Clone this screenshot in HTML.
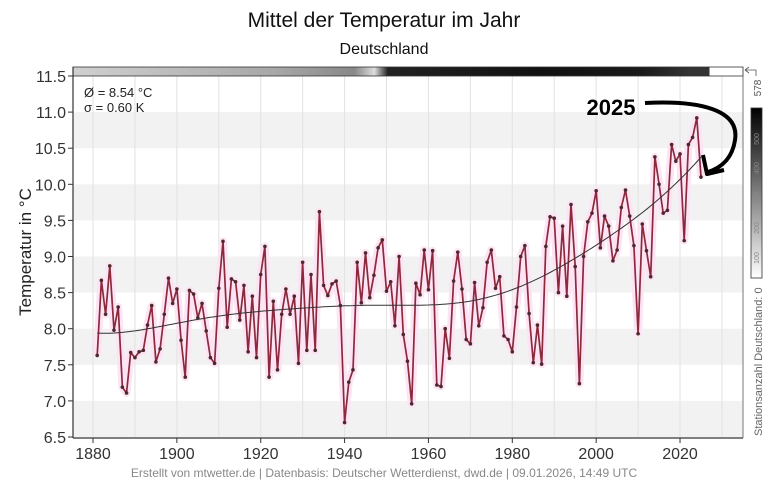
<!DOCTYPE html>
<html><head><meta charset="utf-8">
<style>
body{margin:0;background:#fff;font-family:"Liberation Sans",sans-serif}
svg{display:block}
</style></head><body>
<svg id="c" width="768" height="485" viewBox="0 0 768 485" xmlns="http://www.w3.org/2000/svg">
<defs>
<linearGradient id="topg" x1="0" x2="1" y1="0" y2="0">
<stop offset="0" stop-color="#d0d0d0"/><stop offset="0.3" stop-color="#a8a8a8"/><stop offset="0.42" stop-color="#888"/><stop offset="0.45" stop-color="#ddd"/><stop offset="0.47" stop-color="#222"/><stop offset="0.7" stop-color="#111"/><stop offset="0.85" stop-color="#1a1a1a"/><stop offset="0.92" stop-color="#333"/><stop offset="0.95" stop-color="#333"/><stop offset="0.95" stop-color="#fff"/><stop offset="1" stop-color="#fff"/>
</linearGradient>
<linearGradient id="cbg" x1="0" x2="0" y1="0" y2="1">
<stop offset="0" stop-color="#000"/><stop offset="1" stop-color="#fff"/>
</linearGradient>
</defs>
<text x="384" y="27" text-anchor="middle" font-size="21" fill="#111">Mittel der Temperatur im Jahr</text>
<text x="384" y="54" text-anchor="middle" font-size="16" fill="#111">Deutschland</text>
<g id="bands"></g>
<g id="grid"></g>
<rect x="73" y="67" width="670" height="9" fill="url(#topg)" stroke="#333" stroke-width="0.8"/>
<g id="series"></g>
<g id="trend"></g>
<line x1="73" y1="67" x2="73" y2="438" stroke="#333" stroke-width="1.2"/>
<line x1="73" y1="438" x2="743" y2="438" stroke="#333" stroke-width="1.2"/>
<line x1="743" y1="67" x2="743" y2="438" stroke="#555" stroke-width="0.8"/>
<g id="yticks"></g><g id="xticks"></g>
<text transform="translate(31,252) rotate(-90)" text-anchor="middle" font-size="17" fill="#222">Temperatur in °C</text>
<text x="84" y="97" font-size="13" fill="#222">Ø = 8.54 °C</text>
<text x="84" y="112" font-size="13" fill="#222">σ = 0.60 K</text>
<text x="611" y="115" text-anchor="middle" font-size="22" font-weight="bold" fill="#000">2025</text>
<path d="M645,103 C700,100 740,110 735,140 C732,160 720,168 708,172" fill="none" stroke="#000" stroke-width="4"/>
<path d="M703,155 L707,174 L724,170" fill="none" stroke="#000" stroke-width="4" stroke-linejoin="round"/>
<rect x="751" y="108" width="11" height="170" fill="url(#cbg)" stroke="#333" stroke-width="0.8"/>
<g font-size="7" fill="#888">
<text transform="translate(759,258) rotate(-90)" text-anchor="middle">100</text>
<text transform="translate(759,228) rotate(-90)" text-anchor="middle">200</text>
<text transform="translate(759,198) rotate(-90)" text-anchor="middle">300</text>
<text transform="translate(759,168) rotate(-90)" text-anchor="middle">400</text>
<text transform="translate(759,139) rotate(-90)" text-anchor="middle">500</text>
</g>
<text transform="translate(761,88) rotate(-90)" text-anchor="middle" font-size="10" fill="#555">578</text>
<path d="M745,70 L756,70 L756,76 M745,70 L749,67 M745,70 L749,73" fill="none" stroke="#555" stroke-width="0.8"/>
<text transform="translate(762,436) rotate(-90)" font-size="11" fill="#666">Stationsanzahl Deutschland: 0</text>
<text x="384" y="477" text-anchor="middle" font-size="12" fill="#888">Erstellt von mtwetter.de | Datenbasis: Deutscher Wetterdienst, dwd.de | 09.01.2026, 14:49 UTC</text>
</svg>
<script>
const firstYear = 1881;
const temps = [7.63,8.67,8.2,8.87,7.98,8.3,7.19,7.11,7.67,7.6,7.68,7.7,8.05,8.32,7.54,7.72,8.2,8.7,8.35,8.55,7.84,7.33,8.53,8.48,8.15,8.35,7.97,7.6,7.52,8.56,9.21,8.02,8.69,8.65,8.12,8.6,7.68,8.45,7.6,8.75,9.14,7.33,8.38,7.43,8.2,8.55,8.2,8.45,7.52,8.92,7.7,8.75,7.7,9.62,8.6,8.46,8.62,8.66,8.32,6.7,7.26,7.43,8.92,8.36,9.05,8.43,8.74,9.12,9.23,8.52,8.65,8.04,9.0,7.92,7.55,6.96,8.63,8.47,9.09,8.54,9.08,7.22,7.2,8.0,7.59,8.66,9.06,8.55,7.85,7.79,8.64,8.04,8.29,8.92,9.09,8.56,8.72,7.9,7.85,7.68,8.3,9.0,9.15,8.21,7.53,8.05,7.51,9.14,9.55,9.53,8.5,9.42,8.45,9.72,8.86,7.24,9.0,9.48,9.6,9.91,9.12,9.56,9.42,8.94,9.09,9.68,9.92,9.56,9.15,7.93,9.45,9.08,8.72,10.38,10.0,9.6,9.64,10.55,10.32,10.42,9.22,10.55,10.65,10.92,10.1];
const yTicks = [6.5,7.0,7.5,8.0,8.5,9.0,9.5,10.0,10.5,11.0,11.5];
const xTicks = [1880,1900,1920,1940,1960,1980,2000,2020];
const NS="http://www.w3.org/2000/svg";
const X=yr=>93+(yr-1880)*4.193;
const Y=v=>76+(11.5-v)*72.2;
function mk(tag,attrs,parent){const e=document.createElementNS(NS,tag);for(const k in attrs)e.setAttribute(k,attrs[k]);parent.appendChild(e);return e;}
const bands=document.getElementById('bands'),grid=document.getElementById('grid');
for(let v=6.5;v<11.5;v+=1){
 const r=mk('rect',{x:73,y:Y(v+0.5),width:670,height:Y(v)-Y(v+0.5),fill:'#f2f2f2'},bands);
 
 
}
for(let yr=1880;yr<=2030;yr+=10){
 const l=mk('line',{x1:X(yr),x2:X(yr),y1:76,y2:437,stroke:'#e2e2e2','stroke-width':1},grid);
 
 
}
const yt=document.getElementById('yticks');
yTicks.forEach(v=>{
 mk('line',{x1:68,x2:73,y1:Y(v),y2:Y(v),stroke:'#333'},yt);
 const t=mk('text',{x:66,y:Y(v)+6,'text-anchor':'end','font-size':16,fill:'#333'},yt);
 t.textContent=v.toFixed(1);
 
 
});
const xt=document.getElementById('xticks');
xTicks.forEach(yr=>{
 mk('line',{x1:X(yr),x2:X(yr),y1:438,y2:443,stroke:'#333'},xt);
 const t=mk('text',{x:X(yr),y:459,'text-anchor':'middle','font-size':16,fill:'#333'},xt);
 t.textContent=yr;
 
 
});
const pts=temps.map((v,i)=>[X(firstYear+i),Y(v)]);
const d=pts.map((p,i)=>(i?'L':'M')+p[0].toFixed(1)+','+p[1].toFixed(1)).join(' ');
const s=document.getElementById('series');
const glow=mk('path',{d:d,fill:'none',stroke:'#fde3f3','stroke-width':8,'stroke-linejoin':'round'},s);


const line=mk('path',{d:d,fill:'none',stroke:'#8a2a3c','stroke-width':1.7,'stroke-linejoin':'round'},s);


pts.forEach((p,i)=>{
 const c=mk('circle',{cx:p[0],cy:p[1],r:1.8,fill:'#4a2a2e'},s);
 
 
});
const n=temps.length,trend=[];
for(let i=0;i<n;i++){
 let sw=0,sx=0,sy=0,sxx=0,sxy=0;
 for(let j=0;j<n;j++){const w=Math.exp(-0.5*Math.pow((j-i)/14,2));const x=j-i;sw+=w;sx+=w*x;sy+=w*temps[j];sxx+=w*x*x;sxy+=w*x*temps[j];}
 const b=(sw*sxy-sx*sy)/(sw*sxx-sx*sx);const a=(sy-b*sx)/sw;trend.push(a);
}
const td=trend.map((v,i)=>(i?'L':'M')+X(firstYear+i).toFixed(1)+','+Y(v).toFixed(1)).join(' ');
const tr=mk('path',{d:td,fill:'none',stroke:'#333','stroke-width':1},document.getElementById('trend'));


</script>
</body></html>
